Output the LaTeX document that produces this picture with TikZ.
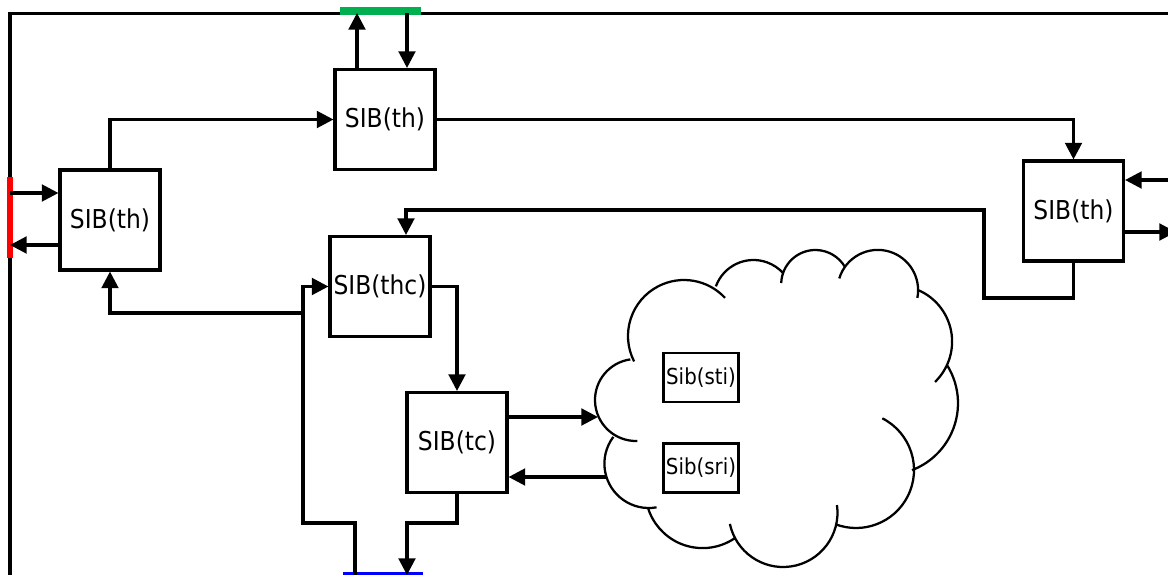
\documentclass[tikz,border=0pt]{standalone}
\usepackage{fontspec}
\setmainfont{DejaVu Sans}[FakeStretch=0.9]
\usetikzlibrary{arrows.meta}

\definecolor{barGreen}{RGB}{0,176,80}

\tikzset{
  sib/.style={draw, line width=2.3pt, minimum width=75pt, minimum height=75pt, inner sep=0pt, font=\fontsize{19.5}{21}\selectfont},
  sibsmall/.style={draw, line width=1.9pt, minimum width=56.5pt, minimum height=36.5pt, inner sep=0pt, font=\fontsize{16.5}{18}\selectfont},
  wire/.style={line width=2.3pt},
  arr/.style={wire, -{Triangle[length=12.5pt,width=12.5pt]}},
  cloudline/.style={line width=1.7pt},
}

\begin{document}
\begin{tikzpicture}[x=0.75pt,y=0.75pt,yscale=-1,xscale=1]
	\useasboundingbox (0,0) rectangle (1168,575);
	
	%Straight Lines (frame)
	\draw [wire]   (10,580) -- (10,13.5) -- (1175,13.5) ;
	%Straight Lines (bars)
	\draw [red, line width=4.5pt]   (10,177) -- (10,258) ;
	\draw [barGreen, line width=5.5pt]   (340,11) -- (421,11) ;
	\draw [blue, line width=4.5pt]   (343,575) -- (423,575) ;
	
	%Shape: Cloud
	\draw [cloudline]
		(636,400) ++(88:41) arc[start angle=88, end angle=262, radius=41]
		(684,336) ++(153:56) arc[start angle=153, end angle=317, radius=56]
		(753.5,300) ++(200:40) arc[start angle=200, end angle=318, radius=40]
		(815.4,284.2) ++(182:34.2) arc[start angle=182, end angle=330, radius=34.2]
		(877.8,290.2) ++(197:40.3) arc[start angle=197, end angle=371, radius=40.3]
		(896,341.6) ++(293:56.1) arc[start angle=293, end angle=406, radius=56.1]
		(886.3,403.2) ++(328:71.7) arc[start angle=328, end angle=429, radius=71.7]
		(856,470) ++(297:58) arc[start angle=297, end angle=471, radius=58]
		(783.1,512.6) ++(-8:54.4) arc[start angle=-8, end angle=168, radius=54.4]
		(702.6,490.9) ++(55:57.2) arc[start angle=55, end angle=163, radius=57.2]
		(648.8,463.6) ++(80:44.4) arc[start angle=80, end angle=217, radius=44.4] ;
	
	% Text Node
	\node [sib] (sibL) at (110,220) {SIB(th)};
	% Text Node
	\node [sib] (sibT) at (385,119.5) {SIB(th)};
	% Text Node
	\node [sib] (sibR) at (1073.5,211) {SIB(th)};
	% Text Node
	\node [sib] (sibThc) at (380,286.5) {SIB(thc)};
	% Text Node
	\node [sib] (sibTc) at (457,442.5) {SIB(tc)};
	% Text Node
	\node [sibsmall] (sibSti) at (701,377.5) {Sib(sti)};
	% Text Node
	\node [sibsmall] (sibSri) at (701,468) {Sib(sri)};
	
	\coordinate (redIn) at (10,193);
	\coordinate (redOut) at (10,245);
	\coordinate (grnUp) at (357,13);
	\coordinate (grnDn) at (407,13);
	\coordinate (rIn) at (1175,180);
	\coordinate (rOut) at (1176,232);
	\coordinate (thcIn) at (406,210);
	\coordinate (cloudIn) at (598,417);
	\coordinate (cloudOut) at (606,477);
	\coordinate (bluIn) at (407,575);
	\coordinate (bluOut) at (355,575);
	
	%Straight Lines
	\draw [arr]   (redIn) -- (sibL.west |- redIn) ;
	\draw [arr]   (sibL.west |- redOut) -- (redOut) ;
	\draw [arr]   (sibL.north) |- (sibT.west) ;
	\draw [arr]   (sibT.north -| grnUp) -- (grnUp) ;
	\draw [arr]   (grnDn) -- (sibT.north -| grnDn) ;
	\draw [arr]   (sibT.east) -| (sibR.north) ;
	\draw [arr]   (rIn) -- (sibR.east |- rIn) ;
	\draw [arr]   (sibR.east |- rOut) -- (rOut) ;
	\draw [arr]   (sibR.south) |- (984,298) -- (984,210) -- (thcIn) -- (thcIn |- sibThc.north) ;
	\draw [arr]   (sibThc.east) -| (sibTc.north) ;
	\draw [arr]   (sibTc.east |- cloudIn) -- (cloudIn) ;
	\draw [arr]   (cloudOut) -- (sibTc.east |- cloudOut) ;
	\draw [arr]   (sibTc.south) -- (457,523) -| (bluIn) ;
	\draw [arr]   (bluOut) -- (355,523) -| (303,286.5) -- (sibThc.west) ;
	\draw [arr]   (303,313) -| (sibL.south) ;
	
\end{tikzpicture}
\end{document}
